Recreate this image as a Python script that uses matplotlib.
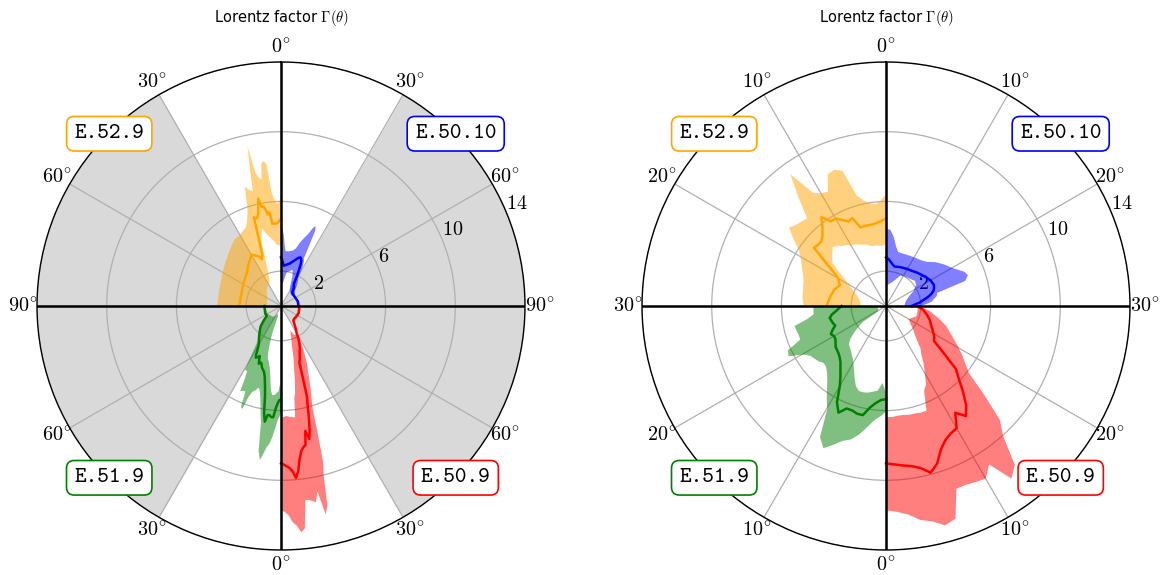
import os
import numpy as np
import matplotlib
matplotlib.use("Agg")
import matplotlib.pyplot as plt
from matplotlib.font_manager import FontProperties

plt.rcParams['mathtext.fontset'] = 'cm'
tt_font = FontProperties(fname=os.path.join(matplotlib.get_data_path(), 'fonts', 'ttf', 'cmtt10.ttf'), size=16)

# data: polar angle theta (deg) vs Lorentz factor, median line and band
red_theta = [0, 1, 2, 3, 4, 5, 6, 7, 8, 9, 10, 11, 12, 13, 14, 15, 16, 17, 18, 19, 20, 22, 24, 26, 28, 30,
             35, 40, 45, 50, 60, 70, 80, 90]
red_mid = [9.03, 9.1, 9.2, 9.3, 9.5, 9.9, 9.5, 8.8, 8.4, 8.2, 8.1, 7.3, 7.8, 7.3, 6.6, 5.9, 5.4, 4.2, 3.4, 3.3,
           3.15, 2.85, 2.65, 2.4, 2.15, 1.8, 1.4, 1.1, 1.05, 1.05, 1.07, 1.08, 1.05, 1.05]
red_hi = [11.7, 11.8, 12.0, 12.4, 12.6, 13.0, 12.8, 11.2, 11.2, 11.3, 11.4, 10.8, 12.2, 11.7, 10.0, 9.2, 7.5,
          6.1, 5.6, 5.2, 4.8, 4.1, 3.6, 3.0, 2.5, 1.95, 1.45, 1.15, 1.1, 1.1, 1.12, 1.13, 1.1, 1.1]
red_lo = [6.35, 6.35, 6.3, 6.3, 6.35, 6.35, 6.4, 6.4, 5.3, 5.0, 4.4, 3.9, 3.4, 3.1, 2.63, 2.3, 2.1, 1.9, 1.7,
          1.6, 1.46, 1.6, 1.8, 1.8, 1.8, 1.75, 1.35, 1.05, 1.0, 1.0, 1.02, 1.03, 1.0, 1.0]

green_theta = [0, 1, 2, 3, 4, 5, 6, 7, 8, 9, 10, 11, 12, 13, 14, 15, 16, 17, 18, 19, 20, 21, 22, 23, 24, 26,
               27, 28, 30, 35, 40, 45, 50, 55, 65, 80, 90]
green_mid = [5.35, 5.4, 5.6, 5.9, 6.4, 6.4, 6.3, 6.3, 6.7, 6.2, 5.3, 4.8, 4.45, 4.15, 3.97, 3.85, 3.78, 3.72,
             3.58, 3.46, 3.45, 3.55, 3.35, 3.12, 3.2, 3.3, 3.15, 2.9, 2.55, 2.2, 1.9, 1.65, 1.3, 1.0, 1.0,
             0.95, 0.96]
green_hi = [6.0, 6.3, 6.55, 7.0, 7.5, 7.9, 8.1, 8.5, 8.9, 8.4, 6.8, 6.3, 5.8, 5.4, 5.1, 4.9, 4.85, 5.0, 5.1,
            5.2, 5.5, 6.3, 6.2, 5.3, 5.3, 5.4, 4.6, 4.2, 4.2, 2.3, 2.0, 1.75, 1.4, 1.1, 1.05, 1.0, 1.0]
green_lo = [5.0, 4.4, 4.85, 4.95, 5.05, 5.1, 5.1, 4.9, 4.5, 4.1, 3.8, 3.55, 3.4, 3.25, 3.15, 3.05, 2.8, 2.4,
            2.0, 1.6, 0.6, 0.55, 0.55, 0.5, 0.5, 0.5, 0.5, 0.5, 0.5, 0.7, 0.75, 0.8, 0.8, 0.85, 0.9, 0.9, 0.9]

orange_theta = [0, 1, 2, 3, 4, 5, 6, 7, 8, 9, 10, 11, 12, 13, 14, 15, 16, 17, 18, 19, 20, 22, 24, 26, 28, 30,
                35, 40, 45, 50, 60, 75, 90]
orange_mid = [5.03, 4.9, 4.8, 4.75, 4.74, 4.75, 4.75, 5.4, 5.3, 5.55, 5.8, 5.79, 6.3, 5.8, 5.45, 5.25, 5.25,
              5.32, 4.3, 3.6, 3.16, 2.9, 3.1, 3.2, 3.3, 3.4, 3.15, 2.95, 2.75, 2.65, 2.5, 2.37, 2.4]
orange_hi = [6.46, 6.1, 5.9, 6.0, 6.2, 6.6, 8.2, 8.4, 8.3, 7.4, 7.5, 7.8, 9.4, 8.0, 6.8, 6.9, 7.0, 7.2, 6.6,
             6.0, 5.7, 5.3, 5.0, 4.9, 4.85, 4.75, 4.7, 4.5, 4.3, 4.15, 3.9, 3.7, 3.7]
orange_lo = [3.6, 3.5, 3.5, 3.55, 3.55, 3.6, 3.75, 3.8, 3.9, 4.0, 4.05, 4.2, 4.3, 4.45, 4.6, 4.4, 4.2, 4.0,
             3.4, 2.8, 2.5, 2.0, 1.7, 1.55, 1.5, 1.5, 1.4, 1.3, 1.2, 1.1, 0.95, 0.85, 0.8]

blue_theta = [0, 1, 2, 3, 4, 5, 6, 8, 10, 12, 14, 16, 18, 20, 22, 23, 24, 25, 26, 28, 30, 35, 40, 50, 60, 75, 90]
blue_mid = [2.79, 2.7, 2.55, 2.42, 2.32, 2.33, 2.36, 2.4, 2.45, 2.5, 2.6, 2.7, 2.82, 2.95, 3.0, 2.95, 2.87,
            2.7, 2.45, 1.95, 1.47, 1.3, 1.0, 0.95, 0.95, 1.0, 1.0]
blue_hi = [4.46, 4.4, 4.0, 3.5, 3.2, 3.18, 3.18, 3.2, 3.25, 3.3, 3.45, 3.8, 4.1, 4.4, 4.9, 5.0, 4.75, 3.0,
           2.95, 2.6, 1.95, 1.6, 1.2, 1.0, 1.0, 1.05, 1.05]
blue_lo = [1.2, 1.25, 1.3, 1.35, 1.4, 1.5, 1.6, 1.95, 2.0, 2.05, 2.1, 2.2, 2.1, 1.8, 1.4, 1.3, 1.2, 1.15, 1.1,
           1.05, 1.0, 0.9, 0.85, 0.9, 0.9, 0.95, 0.95]

# (name, colour, quadrant offset, sign, theta, mid, lo, hi)
series = [
    ("E.50.10", "blue", 0, 1, blue_theta, blue_mid, blue_lo, blue_hi),
    ("E.50.9", "red", 180, -1, red_theta, red_mid, red_lo, red_hi),
    ("E.51.9", "green", 180, 1, green_theta, green_mid, green_lo, green_hi),
    ("E.52.9", "orange", 360, -1, orange_theta, orange_mid, orange_lo, orange_hi),
]
box_pos = {"E.50.10": (0.858, 0.853), "E.50.9": (0.858, 0.148),
           "E.51.9": (0.148, 0.148), "E.52.9": (0.148, 0.853)}

rmax = 14
fig = plt.figure(figsize=(11.61, 5.75), dpi=100)
axes = [fig.add_axes([37/1161, 25/575, 488/1161, 488/575], projection='polar'),
        fig.add_axes([642/1161, 25/575, 488/1161, 488/575], projection='polar')]
scales = [1, 3]
tmax = [90, 30]

for ax, s, tm in zip(axes, scales, tmax):
    ax.set_theta_zero_location('N')
    ax.set_theta_direction(-1)
    ax.set_ylim(0, rmax)
    ax.set_axisbelow(True)
    step = 30 // s
    lab = [0, 1, 2, 3, 2, 1, 0, 1, 2, 3, 2, 1]
    ax.set_thetagrids(np.arange(0, 360, 30), [r'$%d^{\!\circ}$' % (v * step) for v in lab], fontsize=14.5)
    ax.tick_params(axis='x', pad=0)
    ax.set_rticks([2, 6, 10, 14])
    ax.set_yticklabels([r'$2$', r'$6$', r'$10$', r'$14$'], fontsize=14.5)
    ax.set_rlabel_position(67.5)
    ax.grid(True, color='#b0b0b0', lw=0.9)
    ax.spines['polar'].set_linewidth(1.0)

    if s == 1:
        for a0, a1 in [(30, 150), (210, 330)]:
            tt = np.radians(np.linspace(a0, a1, 200))
            ax.fill_between(tt, 0, rmax, color='0.85', lw=0, zorder=0.2)

    for ang in [0, 90, 180, 270]:
        ax.plot([np.radians(ang)] * 2, [0, rmax], color='k', lw=1.8, zorder=4)

    for name, col, off, sgn, th, mid, lo, hi in series:
        th = np.array(th, dtype=float)
        keep = th <= tm
        phi = np.radians(off + sgn * s * th[keep])
        ax.fill_between(phi, np.array(lo)[keep], np.array(hi)[keep], color=col, alpha=0.5, lw=0, zorder=2)
        ax.plot(phi, np.array(mid)[keep], color=col, lw=1.8, zorder=3)
        bx, by = box_pos[name]
        ax.text(bx, by, name, transform=ax.transAxes, ha='center', va='center',
                fontproperties=tt_font, zorder=10,
                bbox=dict(boxstyle='round,pad=0.35', fc='white', ec=col, lw=1.2))

    ax.text(0.5, 1.09, r'Lorentz factor $\Gamma(\theta)$', transform=ax.transAxes,
            ha='center', va='center', fontsize=10.5, family='DejaVu Sans')

fig.savefig('out.png', dpi=100)
